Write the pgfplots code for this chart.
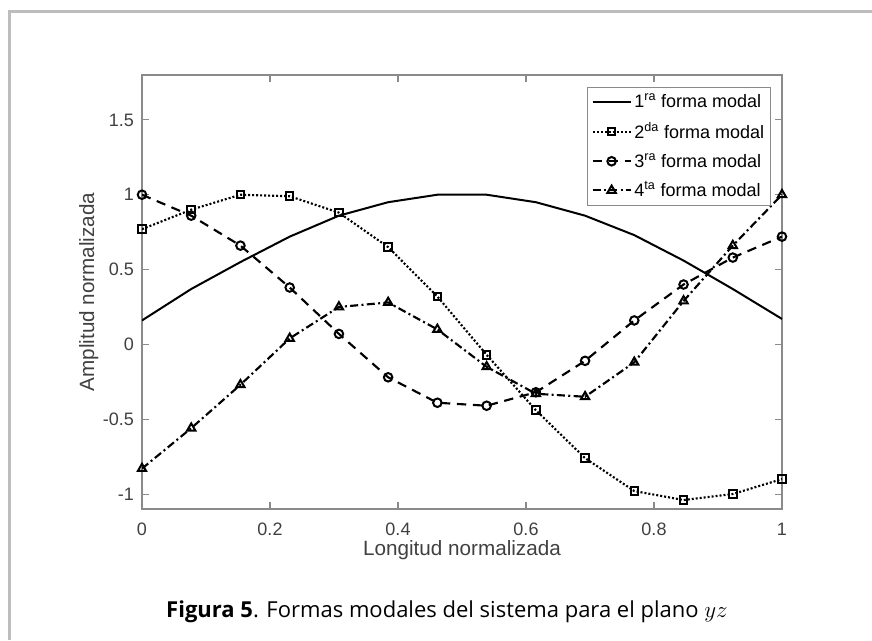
\documentclass[border=0pt]{standalone}
\usepackage{fontspec}
\setmainfont{Open Sans}
\newfontfamily\axfont{Liberation Sans}
\usepackage{pgfplots}
\pgfplotsset{compat=1.18}
\definecolor{framegray}{HTML}{BDBDBD}
\definecolor{axgray}{HTML}{8A8A8A}
\definecolor{txtgray}{HTML}{404040}

\begin{document}
\begin{tikzpicture}[x=0.75pt,y=0.75pt]
% page in pixel units (872 x 640), origin bottom left
\path[use as bounding box] (0,0) rectangle (872,640);
\draw[framegray, line width=2.25pt] (9.5,0) -- (9.5,628) -- (872,628);

\begin{axis}[
    at={(106.5pt,98.25pt)}, anchor=south west,
    scale only axis, width=480pt, height=325.5pt,
    xmin=0, xmax=1, ymin=-1.1, ymax=1.8,
    xtick={0,0.2,0.4,0.6,0.8,1},
    ytick={-1,-0.5,0,0.5,1,1.5},
    tick align=inside,
    major tick length=5pt,
    axis line style={axgray, line width=0.9pt},
    tick style={axgray, line width=0.8pt},
    /pgf/number format/assume math mode=true,
    ticklabel style={font=\axfont\fontsize{13.5}{15}\selectfont, text=txtgray},
    xticklabel style={yshift=-7pt},
    yticklabel style={xshift=-2.5pt},
    xlabel={Longitud normalizada},
    ylabel={Amplitud normalizada},
    xlabel style={at={(axis description cs:0.5,-0.094)}, anchor=center,
        font=\axfont\fontsize{15.5}{17}\selectfont, text=txtgray},
    ylabel style={at={(axis description cs:-0.083,0.5)}, anchor=center,
        font=\axfont\fontsize{15.5}{17}\selectfont, text=txtgray},
    legend style={at={(0.983,0.972)}, anchor=north east,
        draw=axgray, line width=0.6pt,
        font=\axfont\fontsize{13.5}{15}\selectfont,
        cells={anchor=west}, row sep=5.5pt, inner sep=3pt},
    legend image code/.code={
        \draw[mark repeat=2, mark phase=2, #1]
            plot coordinates {(0cm,0cm) (0.5cm,0cm) (1cm,0cm)};
    },
]
% 1ra forma modal
\addplot[black, line width=1.5pt] coordinates {
    (0,0.16) (0.0769,0.37) (0.1538,0.55) (0.2308,0.72) (0.3077,0.86)
    (0.3846,0.95) (0.4615,1.00) (0.5385,1.00) (0.6154,0.95) (0.6923,0.86)
    (0.7692,0.73) (0.8462,0.56) (0.9231,0.37) (1,0.17)
};
\addlegendentry{1\textsuperscript{ra} forma modal}
% 2da forma modal
\addplot[black, line width=1.6pt, dash pattern=on 1.5pt off 1.5pt,
    mark=square, mark size=2.8pt,
    mark options={solid, line width=1.5pt, fill=white}] coordinates {
    (0,0.77) (0.0769,0.90) (0.1538,1.00) (0.2308,0.99) (0.3077,0.88)
    (0.3846,0.65) (0.4615,0.32) (0.5385,-0.07) (0.6154,-0.44) (0.6923,-0.76)
    (0.7692,-0.98) (0.8462,-1.04) (0.9231,-1.00) (1,-0.90)
};
\addlegendentry{2\textsuperscript{da} forma modal}
% 3ra forma modal
\addplot[black, line width=1.6pt, dash pattern=on 7pt off 5pt,
    mark=o, mark size=3.2pt,
    mark options={solid, line width=1.5pt, fill=white}] coordinates {
    (0,1.00) (0.0769,0.86) (0.1538,0.66) (0.2308,0.38) (0.3077,0.07)
    (0.3846,-0.22) (0.4615,-0.39) (0.5385,-0.41) (0.6154,-0.32) (0.6923,-0.11)
    (0.7692,0.16) (0.8462,0.40) (0.9231,0.58) (1,0.72)
};
\addlegendentry{3\textsuperscript{ra} forma modal}
% 4ta forma modal
\addplot[black, line width=1.6pt, dash pattern=on 6pt off 2.5pt on 1.5pt off 2.5pt,
    mark=triangle, mark size=3.6pt,
    mark options={solid, line width=1.5pt, fill=white}] coordinates {
    (0,-0.83) (0.0769,-0.56) (0.1538,-0.27) (0.2308,0.04) (0.3077,0.25)
    (0.3846,0.28) (0.4615,0.10) (0.5385,-0.15) (0.6154,-0.33) (0.6923,-0.35)
    (0.7692,-0.12) (0.8462,0.29) (0.9231,0.66) (1,1.00)
};
\addlegendentry{4\textsuperscript{ta} forma modal}
\end{axis}

\node[anchor=base, font=\fontsize{16.5}{20}\selectfont] at (447,23)
    {\textbf{Figura 5}. Formas modales del sistema para el plano $yz$};
\end{tikzpicture}
\end{document}
